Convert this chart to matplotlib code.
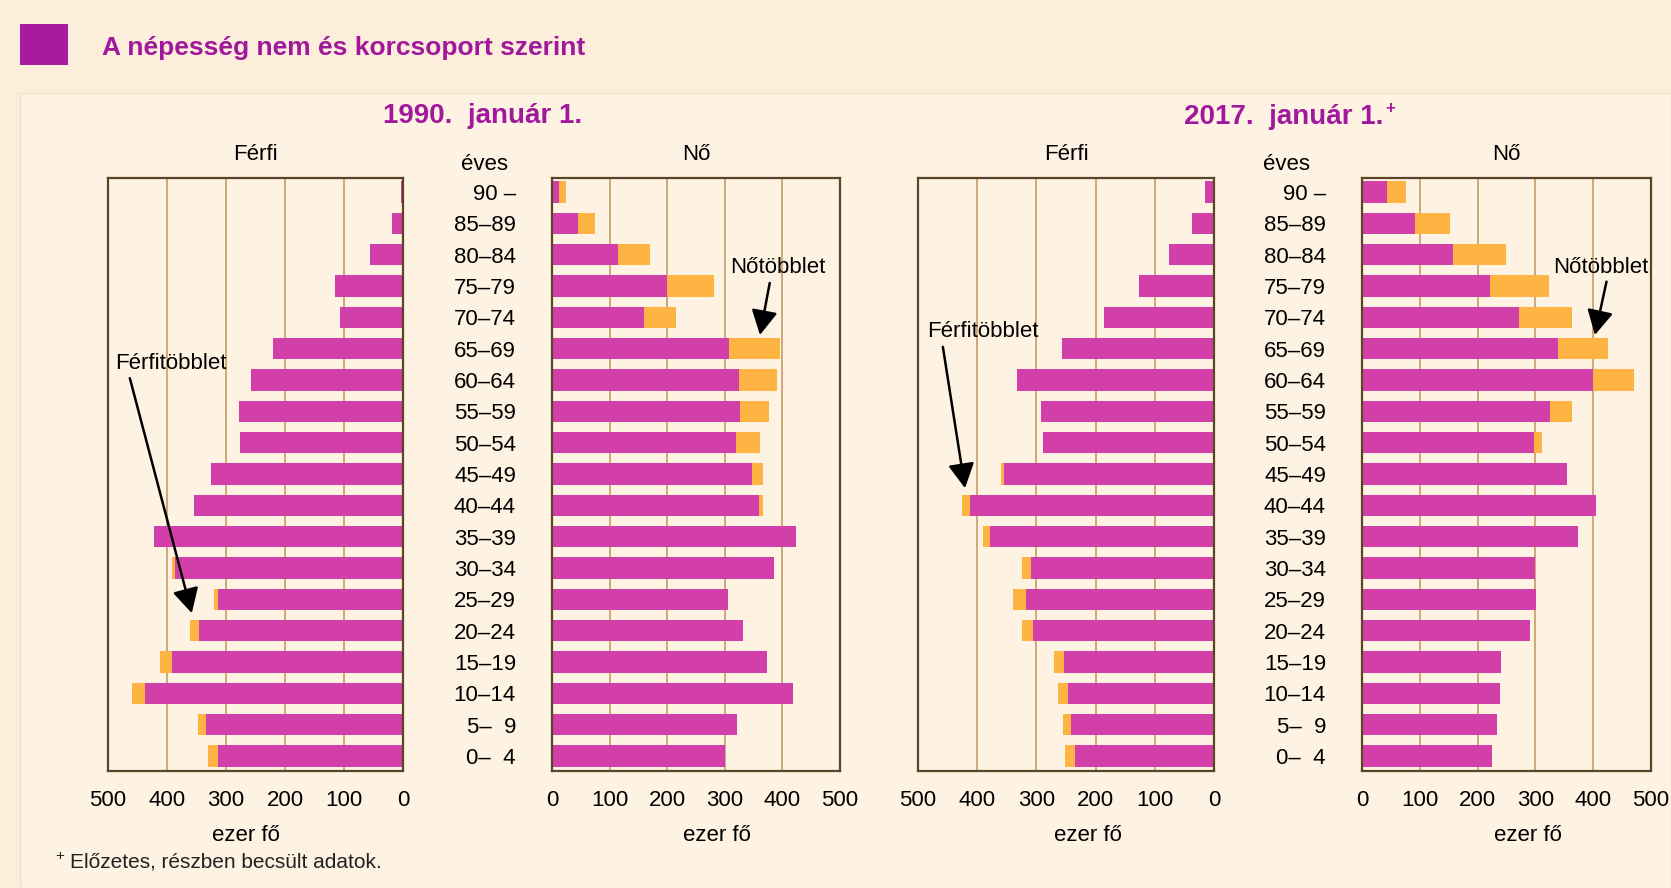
"""
korfa: a népesség nem és korcsoport szerint, 1990 és 2017
"""
import numpy as np
import matplotlib
matplotlib.use('Agg')
import matplotlib.pyplot as plt
from matplotlib.patches import Rectangle

plt.rcParams['font.family'] = ['Liberation Sans', 'DejaVu Sans']

W, H = 1671, 888

# korcsoportok alulról felfelé
korcsoport = ['0–  4', '5–  9', '10–14', '15–19', '20–24', '25–29', '30–34',
              '35–39', '40–44', '45–49', '50–54', '55–59', '60–64', '65–69',
              '70–74', '75–79', '80–84', '85–89', '90 –']

# ezer fő; a "tobblet" a narancs rész a bíbor sáv végén
ferfi_1990 = [314, 334, 437, 392, 345, 313, 386, 422, 354, 326, 276, 278, 258,
              220, 106, 115, 56, 19, 4]
ferfi_1990_tobblet = [16, 14, 23, 20, 16, 7, 6, 0, 0, 0, 0, 0, 0, 0, 0, 0, 0, 0, 0]
no_1990 = [301, 321, 418, 373, 332, 306, 385, 424, 360, 348, 319, 326, 325,
           307, 160, 199, 114, 46, 13]
no_1990_tobblet = [0, 0, 0, 0, 0, 0, 0, 0, 7, 18, 42, 50, 66, 88, 55, 83, 57, 29, 11]

ferfi_2017 = [235, 242, 247, 253, 305, 318, 309, 378, 413, 354, 289, 292, 333,
              256, 185, 126, 76, 38, 15]
ferfi_2017_tobblet = [16, 13, 17, 17, 19, 22, 15, 12, 13, 6, 0, 0, 0, 0, 0, 0, 0, 0, 0]
no_2017 = [225, 233, 238, 240, 291, 301, 300, 373, 405, 355, 298, 325, 399,
           339, 271, 221, 158, 92, 43]
no_2017_tobblet = [0, 0, 0, 0, 0, 0, 0, 0, 0, 0, 13, 39, 72, 87, 93, 103, 91, 60, 33]

x_ticks = [0, 100, 200, 300, 400, 500]

MAGENTA = '#D23FA8'
ORANGE = '#FDB442'
PURPLE = '#A2189C'
GRID = '#C8A46F'
FRAME = '#5A4626'
BG_OUT = '#FCEEDA'
BG_IN = '#FEF3E2'


def fx(px):
    return px / W


def fy(py):
    return 1 - py / H


def make_axes(fig, left, right, top=178, bottom=771):
    return fig.add_axes([fx(left), fy(bottom), (right - left) / W, (bottom - top) / H])


def pyramid_side(ax, base, extra, male, title, xlabel_x):
    y = np.arange(len(korcsoport))
    base = np.array(base)
    extra = np.array(extra)
    ax.barh(y, base, height=0.68, color=MAGENTA, zorder=3)
    ax.barh(y, extra, left=base, height=0.68, color=ORANGE, zorder=3)

    ax.set_ylim(-0.48, 18.45)
    if male:
        ax.set_xlim(500, 0)
    else:
        ax.set_xlim(0, 500)
    ax.set_xticks(x_ticks)
    ax.set_xticklabels([str(t) for t in x_ticks])
    ax.tick_params(axis='x', length=0, pad=14, labelsize=16)
    ax.set_facecolor('none')
    for t in [100, 200, 300, 400]:
        ax.axvline(t, color=GRID, lw=1.3, zorder=1)
    for s in ax.spines.values():
        s.set_color(FRAME)
        s.set_linewidth(1.6)
        s.set_zorder(4)

    if male:
        ax.set_yticks([])
    else:
        ax.set_yticks(y)
        ax.set_yticklabels(korcsoport)
        ax.tick_params(axis='y', length=0, pad=26, labelsize=16)

    ax.set_title(title, fontsize=16, pad=13)
    ax.set_xlabel('ezer fő', fontsize=16)
    ax.xaxis.set_label_coords(xlabel_x, -0.108)
    ax.xaxis.label.set_va('center')


def arrow_note(ax, text, text_xy, start, tip):
    ax.text(text_xy[0], text_xy[1], text, fontsize=16, ha='left', va='center', zorder=6)
    ax.annotate('', xy=tip, xytext=start,
                arrowprops=dict(arrowstyle='-|>,head_length=0.75,head_width=0.4',
                                color='black', lw=1.8, mutation_scale=20,
                                shrinkA=0, shrinkB=0),
                zorder=6)


def main():
    fig = plt.figure(figsize=(W / 100, H / 100), dpi=100)
    fig.patch.set_facecolor(BG_OUT)

    # világosabb belső keret, az axesek mögött
    fig.patches.append(Rectangle((fx(20), 0), 1 - fx(20), fy(93), transform=fig.transFigure,
                                 facecolor=BG_IN, edgecolor='#F2E2C8', lw=1, zorder=-10))
    # fejléc: bíbor négyzet + cím
    fig.patches.append(Rectangle((fx(20), fy(65)), fx(68) - fx(20), fy(24) - fy(65),
                                 transform=fig.transFigure, facecolor='#A81AA0',
                                 edgecolor='none', zorder=-5))
    fig.text(fx(102), fy(48), 'A népesség nem és korcsoport szerint', fontsize=19,
             fontweight='bold', color=PURPLE, ha='left', va='center')

    fig.text(fx(483), fy(116), '1990.  január 1.', fontsize=20, fontweight='bold',
             color=PURPLE, ha='center', va='center')
    fig.text(fx(1284), fy(117), '2017.  január 1.', fontsize=20, fontweight='bold',
             color=PURPLE, ha='center', va='center')
    fig.text(fx(1385), fy(108), '+', fontsize=12, fontweight='bold',
             color=PURPLE, ha='left', va='center')
    fig.text(fx(484), fy(164), 'éves', fontsize=16, ha='center', va='center')
    fig.text(fx(1286), fy(164), 'éves', fontsize=16, ha='center', va='center')

    ax1 = make_axes(fig, 108, 403)
    pyramid_side(ax1, ferfi_1990, ferfi_1990_tobblet, True, 'Férfi', 0.468)
    arrow_note(ax1, 'Férfitöbblet', (488, 12.54), (463, 12.06), (358, 4.56))

    ax2 = make_axes(fig, 552, 840)
    pyramid_side(ax2, no_1990, no_1990_tobblet, False, 'Nő', 0.573)
    arrow_note(ax2, 'Nőtöbblet', (309, 15.58), (378, 15.1), (361, 13.44))

    ax3 = make_axes(fig, 918, 1214)
    pyramid_side(ax3, ferfi_2017, ferfi_2017_tobblet, True, 'Férfi', 0.574)
    arrow_note(ax3, 'Férfitöbblet', (485, 13.54), (458, 13.06), (420.6, 8.55))

    ax4 = make_axes(fig, 1362, 1651)
    pyramid_side(ax4, no_2017, no_2017_tobblet, False, 'Nő', 0.573)
    arrow_note(ax4, 'Nőtöbblet', (330, 15.58), (423, 15.14), (403, 13.44))

    # lábjegyzet
    fig.text(fx(55), fy(856), '+', fontsize=11, ha='left', va='center', color='#222222')
    fig.text(fx(70), fy(862), 'Előzetes, részben becsült adatok.', fontsize=15,
             ha='left', va='center', color='#222222')

    fig.savefig('out.png', dpi=100, facecolor=fig.get_facecolor())


if __name__ == "__main__":
    main()
